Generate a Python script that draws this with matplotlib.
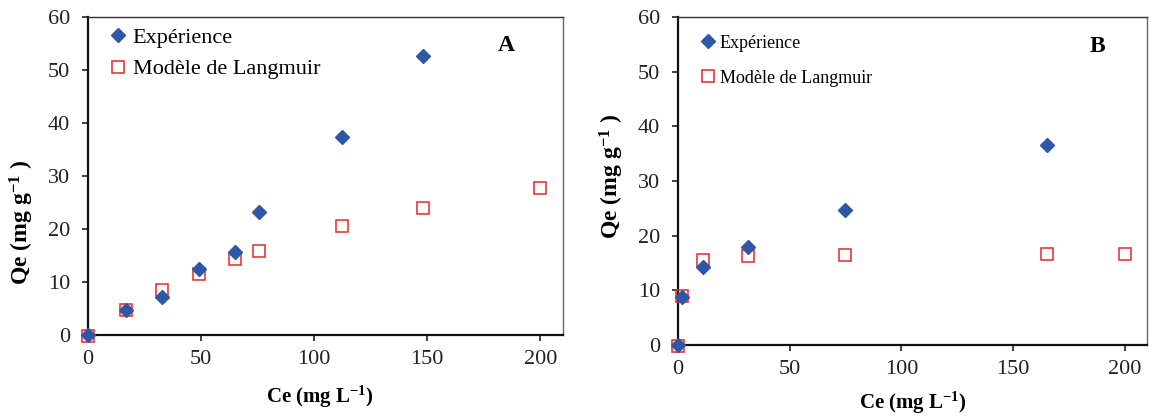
import matplotlib
matplotlib.use("Agg")
import matplotlib.pyplot as plt
from matplotlib.lines import Line2D

# Panel A data
ce_exp_a = [0, 17, 32.5, 49, 65, 75.5, 112.5, 148]
qe_exp_a = [0, 4.8, 7.25, 12.4, 15.6, 23.3, 37.4, 52.7]
ce_lang_a = [0, 17, 32.5, 49, 65, 75.5, 112.5, 148, 200]
qe_lang_a = [-0.1, 4.7, 8.4, 11.5, 14.3, 15.9, 20.5, 24.0, 27.7]

# Panel B data
ce_exp_b = [0, 1.6, 11.1, 31.5, 74.9, 165]
qe_exp_b = [0, 8.8, 14.2, 17.9, 24.7, 36.6]
ce_lang_b = [0, 1.6, 11.1, 31.5, 74.9, 165, 200]
qe_lang_b = [-0.1, 8.9, 15.5, 16.3, 16.5, 16.6, 16.6]

xticks = [0, 50, 100, 150, 200]
yticks = [0, 10, 20, 30, 40, 50, 60]
label_exp = "Expérience"
label_lang = "Modèle de Langmuir"

BLUE = "#2F57A8"
RED = "#E8262C"
SERIF = "Liberation Serif"

plt.rcParams["mathtext.fontset"] = "custom"
plt.rcParams["mathtext.rm"] = SERIF
plt.rcParams["mathtext.bf"] = SERIF + ":bold"
plt.rcParams["mathtext.it"] = SERIF + ":italic"

W, H = 1149, 416
fig = plt.figure(figsize=(W / 100, H / 100), dpi=100)

def px_axes(l, r, t, b):
    return fig.add_axes([l / W, 1 - b / H, (r - l) / W, (b - t) / H])

axA = px_axes(88, 563, 17, 335)
axB = px_axes(678, 1147, 17, 345)

panels = [
    dict(ax=axA, cx=ce_exp_a, qx=qe_exp_a, cl=ce_lang_a, ql=qe_lang_a, tag="A",
         legfs=16, legx=0.017, legy=1.01, legsp=0.5, tagx=0.88,
         ylc=(-0.139, 0.355), xlc=(0.488, -0.195)),
    dict(ax=axB, cx=ce_exp_b, qx=qe_exp_b, cl=ce_lang_b, ql=qe_lang_b, tag="B",
         legfs=13, legx=0.025, legy=0.979, legsp=1.0, tagx=0.895,
         ylc=(-0.141, 0.515), xlc=(0.501, -0.177)),
]

for p in panels:
    ax = p["ax"]
    ax.plot(p["cl"], p["ql"], linestyle="none", marker="s", markersize=8.5,
            markerfacecolor="none", markeredgecolor=RED, markeredgewidth=1.1,
            clip_on=False, zorder=3)
    ax.plot(p["cx"], p["qx"], linestyle="none", marker="D", markersize=7.5,
            markerfacecolor=BLUE, markeredgecolor=BLUE, clip_on=False, zorder=4)
    ax.set_xlim(0, 210)
    ax.set_ylim(0, 60)
    ax.set_xticks(xticks)
    ax.set_yticks(yticks)
    ax.tick_params(direction="out", length=4.5, width=1.2, color="#222222",
                   labelsize=16, top=False, right=False)
    ax.tick_params(axis="y", pad=8.5)
    ax.tick_params(axis="x", pad=6)
    for lab in ax.get_xticklabels() + ax.get_yticklabels():
        lab.set_fontfamily(SERIF)
        lab.set_color("#222222")
    ax.spines["left"].set_linewidth(1.6)
    ax.spines["bottom"].set_linewidth(1.6)
    ax.spines["left"].set_color("#111111")
    ax.spines["bottom"].set_color("#111111")
    ax.spines["top"].set_linewidth(1.0)
    ax.spines["right"].set_linewidth(1.0)
    ax.spines["top"].set_color("#333333")
    ax.spines["right"].set_color("#666666")
    ax.set_xlabel("Ce (mg L$^{\\mathregular{-1}}$)", fontfamily=SERIF,
                  fontweight="bold", fontsize=15)
    ax.set_ylabel("Qe (mg g$^{\\mathregular{-1}}$ )", fontfamily=SERIF,
                  fontweight="bold", fontsize=17)
    ax.xaxis.label.set_va("center")
    ax.yaxis.label.set_va("center")
    ax.xaxis.set_label_coords(*p["xlc"])
    ax.yaxis.set_label_coords(*p["ylc"])
    handles = [
        Line2D([], [], linestyle="none", marker="D", markersize=7.5,
               markerfacecolor=BLUE, markeredgecolor=BLUE),
        Line2D([], [], linestyle="none", marker="s", markersize=8.5,
               markerfacecolor="none", markeredgecolor=RED, markeredgewidth=1.1),
    ]
    ax.legend(handles, [label_exp, label_lang], loc="upper left",
              bbox_to_anchor=(p["legx"], p["legy"]), frameon=False,
              prop={"family": SERIF, "size": p["legfs"]},
              handlelength=0.8, handletextpad=0.25, labelspacing=p["legsp"],
              borderaxespad=0.2)
    ax.text(p["tagx"], 0.91, p["tag"], transform=ax.transAxes, fontfamily=SERIF,
            fontweight="bold", fontsize=17, ha="center", va="center")

fig.savefig("out.png", dpi=100)
